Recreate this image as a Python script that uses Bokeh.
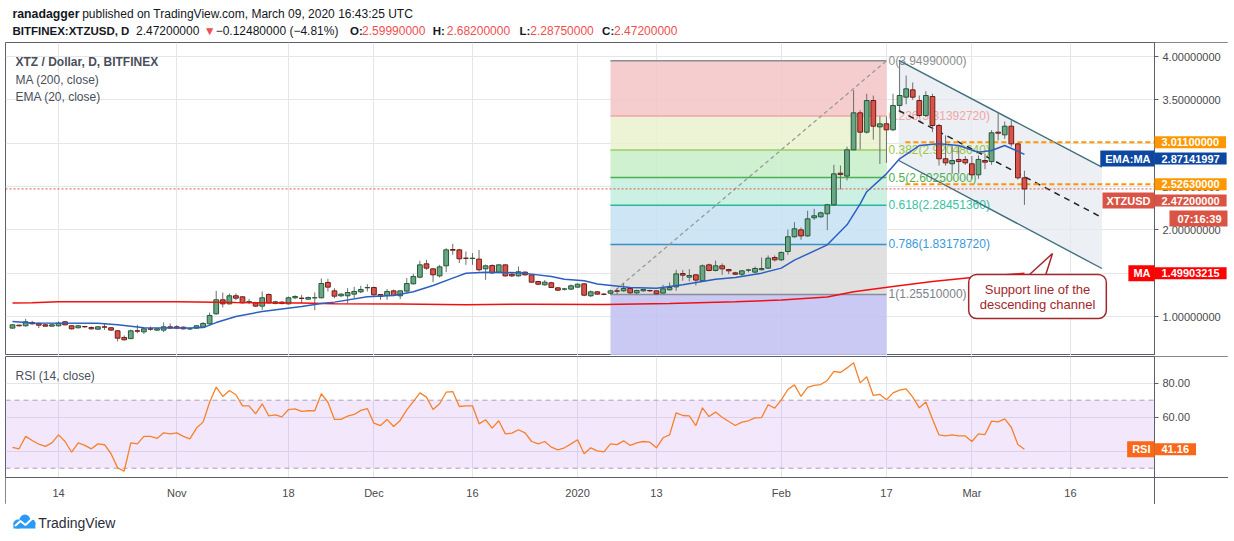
import pandas as pd
from bokeh.plotting import figure
from bokeh.models import Range1d, FixedTicker, PrintfTickFormatter, Label, ColumnDataSource
from bokeh.layouts import column
from bokeh.embed import file_html
from bokeh.resources import INLINE
from bokeh.core.properties import value

FONT = "Liberation Sans"
BASE = pd.Timestamp("2019-10-14")

# ---------------- data ----------------
dates = pd.date_range("2019-10-07", "2020-03-09", freq="D")

opens = [0.866,0.900,0.893,0.931,0.920,0.904,0.889,0.893,0.939,0.893, 0.870,0.885,0.873,0.854,0.881,0.870,0.835,0.758,0.745,0.835, 0.823,0.858,0.843,0.843,0.881,
         0.881,0.877,0.858,0.866,0.877,0.916,1.031,1.193,1.146,1.239, 1.227,1.170,1.158,1.120,1.254,1.150,1.166,1.146,1.216,1.212, 1.200,1.216,1.216,1.393,1.296,1.239,1.239,1.258,1.285,1.331,
         1.335,1.254,1.243,1.296,1.239,1.293,1.377,1.454,1.608,1.550, 1.469,1.585,1.773,1.769,1.673,1.669,1.662,1.550,1.589,1.512, 1.596,1.489,1.469,1.512,1.481,1.404,1.366,1.389,1.331,1.316, 1.316,
         1.339,1.377,1.239,1.285,1.258,1.269,1.296,1.296,1.323,1.273, 1.296,1.300,1.296,1.270,1.308,1.342,1.496,1.454,1.481,1.412, 1.596,1.531,1.585,1.542,1.504,1.488,1.535,1.512,1.540,1.558, 1.681,
         1.654,1.750,1.920,2.000,1.930,2.139,2.150,2.185,2.289,2.654, 2.620,2.923,3.350,3.127,3.492,3.188,3.223,3.154,3.435,3.531, 3.615,3.492,3.319,3.538,3.204,2.820,2.762,2.812,2.812,
         2.762,2.635,2.800,2.788,3.127,3.096,3.196,2.992,2.5999]
highs = [0.910,0.905,0.973,0.950,0.930,0.912,0.920,0.943,0.950,0.900, 0.900,0.893,0.885,0.890,0.915,0.880,0.843,0.781,0.850,0.904, 0.870,0.885,0.862,0.931,0.920,
         0.900,0.885,0.870,0.900,0.935,1.046,1.296,1.277,1.266,1.266, 1.235,1.204,1.170,1.289,1.266,1.180,1.175,1.230,1.245,1.250, 1.230,1.277,1.439,1.435,1.327,1.270,1.327,1.343,1.354,1.373,
         1.345,1.260,1.316,1.310,1.300,1.443,1.493,1.643,1.654,1.560, 1.596,1.789,1.839,1.780,1.750,1.731,1.769,1.600,1.600,1.600, 1.600,1.500,1.577,1.520,1.490,1.410,1.420,1.400,1.340,1.330, 1.370,
         1.380,1.385,1.300,1.295,1.270,1.310,1.327,1.385,1.330,1.310, 1.320,1.310,1.300,1.366,1.392,1.538,1.538,1.546,1.490,1.600, 1.610,1.646,1.612,1.550,1.515,1.535,1.550,1.577,1.681,1.704, 1.704,
         1.750,2.004,2.089,2.027,2.220,2.242,2.210,2.300,2.750,2.742, 2.960,3.610,3.380,3.570,3.550,3.310,3.310,3.570,3.9499,3.780, 3.700,3.550,3.600,3.570,3.220,3.090,2.973,2.973,2.850,
         2.850,2.858,2.880,3.150,3.358,3.250,3.262,3.000,2.682]
lows = [0.860,0.885,0.885,0.905,0.866,0.885,0.885,0.885,0.900,0.850, 0.862,0.870,0.850,0.850,0.846,0.835,0.712,0.725,0.740,0.808, 0.800,0.835,0.835,0.820,0.862,
        0.855,0.850,0.846,0.858,0.870,0.905,1.020,1.104,1.140,1.190, 1.150,1.143,1.110,1.077,1.150,1.140,1.140,1.140,1.200,1.154, 1.190,1.073,1.210,1.289,1.212,1.225,1.154,1.212,1.270,1.289,
        1.240,1.193,1.193,1.235,1.200,1.280,1.370,1.440,1.539,1.396, 1.450,1.512,1.712,1.616,1.596,1.596,1.520,1.423,1.490,1.500, 1.460,1.455,1.460,1.470,1.390,1.360,1.355,1.330,1.295,1.300, 1.305,
        1.330,1.235,1.225,1.250,1.245,1.2551,1.258,1.285,1.262,1.260, 1.285,1.285,1.258,1.262,1.300,1.296,1.412,1.404,1.358,1.400, 1.520,1.520,1.481,1.489,1.480,1.462,1.510,1.500,1.530,1.550, 1.635,
        1.640,1.712,1.910,1.885,1.920,2.115,2.140,1.996,2.280,2.466, 2.570,2.920,2.927,3.110,3.040,2.760,2.773,3.140,3.377,3.450, 3.500,3.300,3.300,3.127,2.742,2.740,2.646,2.646,2.750,
        2.589,2.589,2.700,2.750,3.031,3.050,2.960,2.580,2.2875]
closes = [0.904,0.893,0.939,0.916,0.900,0.889,0.904,0.923,0.904,0.858, 0.893,0.881,0.858,0.881,0.877,0.843,0.750,0.731,0.835,0.831, 0.858,0.854,0.858,0.881,0.866,
          0.866,0.858,0.858,0.893,0.920,1.012,1.193,1.146,1.239,1.212, 1.158,1.172,1.120,1.216,1.158,1.170,1.150,1.216,1.231,1.208, 1.219,1.216,1.381,1.339,1.235,1.258,1.277,1.289,1.312,1.335,
          1.250,1.231,1.289,1.243,1.296,1.381,1.462,1.596,1.558,1.481, 1.573,1.769,1.765,1.666,1.671,1.673,1.539,1.585,1.504,1.596, 1.469,1.469,1.516,1.481,1.396,1.373,1.396,1.335,1.304,1.318, 1.354,
          1.373,1.246,1.285,1.258,1.256,1.296,1.292,1.323,1.273,1.300, 1.312,1.296,1.262,1.320,1.335,1.492,1.477,1.473,1.420,1.585, 1.531,1.585,1.550,1.527,1.488,1.527,1.537,1.554,1.554,1.673, 1.654,
          1.739,1.920,2.012,1.930,2.127,2.162,2.196,2.289,2.646,2.638, 2.923,3.350,3.127,3.492,3.196,3.223,3.154,3.435,3.550,3.627, 3.531,3.319,3.550,3.204,2.820,2.773,2.800,2.788,2.773,
          2.635,2.812,2.781,3.120,3.115,3.196,2.992,2.600,2.472]

rsi = [42.2,41.4,48.7,46.3,44.1,42.8,44.9,49.6,45.7,39.4, 44.9,43.4,41.4,44.3,43.8,38.5,30.2,28.3,44.9,44.3, 48.7,48.7,47.5,50.8,50.2,
       50.8,48.7,47.3,53.6,57.1,68.8,77.7,72.2,75.7,73.2, 66.7,66.7,62.0,67.9,60.8,61.4,60.2,64.5,64.9,63.4, 63.8,63.8,73.8,68.8,58.7,58.7,60.6,61.6,64.0,65.1,
       56.5,55.1,58.7,54.5,58.1,64.3,69.2,74.3,71.8,64.5, 67.9,74.7,75.1,66.3,66.7,66.7,56.1,58.5,53.6,57.9, 50.2,50.6,52.6,50.8,45.7,44.3,45.7,42.4,40.8,42.0, 44.3,
       46.7,38.5,42.0,40.2,39.6,44.3,43.9,46.1,43.4,44.9, 45.7,45.3,42.0,47.9,49.6,62.6,61.0,60.8,55.1,65.5, 60.4,63.0,60.0,57.5,55.1,57.1,57.9,59.6,59.8,67.3, 65.3,
       70.2,76.3,79.0,72.2,77.5,78.7,79.2,81.6,86.9,86.3, 89.0,92.0,80.2,83.8,72.8,73.4,70.2,74.3,75.9,76.7, 71.8,65.5,69.0,59.0,49.6,49.0,49.6,49.0,49.0,
       45.7,50.2,49.8,57.7,57.3,59.0,54.1,43.9,41.16]

ema_dates = ["2019-10-07","2019-10-10","2019-10-20","2019-10-23","2019-10-27","2019-11-03","2019-11-05",
             "2019-11-07","2019-11-10","2019-11-14","2019-11-20","2019-11-23","2019-11-25","2019-11-30",
             "2019-12-04","2019-12-07","2019-12-10","2019-12-13","2019-12-15","2019-12-18","2019-12-23",
             "2019-12-25","2019-12-28","2019-12-30","2020-01-02","2020-01-04","2020-01-09","2020-01-13",
             "2020-01-17","2020-01-22","2020-01-25","2020-01-29","2020-02-01","2020-02-03","2020-02-08",
             "2020-02-11","2020-02-13","2020-02-14","2020-02-17","2020-02-19","2020-02-22","2020-02-25",
             "2020-02-28","2020-03-02","2020-03-04","2020-03-06","2020-03-09"]
ema_values = [0.943,0.925,0.922,0.905,0.870,0.866,0.872,
              0.930,1.000,1.058,1.115,1.150,1.166,1.227,
              1.243,1.285,1.358,1.443,1.500,1.512,1.504,
              1.489,1.462,1.431,1.412,1.375,1.335,1.327,
              1.366,1.431,1.450,1.500,1.558,1.650,1.827,
              2.058,2.300,2.440,2.646,2.820,2.973,2.992,
              2.973,2.896,2.915,2.973,2.87141997]

ma_dates = ["2019-10-07","2019-10-10","2019-10-14","2019-11-01","2019-11-10","2019-11-20","2019-11-25",
            "2019-12-05","2019-12-15","2019-12-25","2020-01-05","2020-01-15","2020-01-25","2020-02-01",
            "2020-02-08","2020-02-12","2020-02-18","2020-02-24","2020-03-01","2020-03-09"]
ma_values = [1.155,1.160,1.170,1.170,1.162,1.155,1.148,
             1.143,1.137,1.142,1.138,1.150,1.170,1.190,
             1.225,1.285,1.345,1.405,1.450,1.49903215]

fib_ratios = [0, 0.236, 0.382, 0.5, 0.618, 0.786, 1, 1.618]
fib_prices = [3.9499, 3.3139272, 2.9204864, 2.6025, 2.2845136, 1.8317872, 1.2551, -0.4103]
fib_start, fib_end = "2020-01-06", "2020-02-17"

channel_t = ["2020-02-18 21:00", "2020-03-20 19:00"]
channel_upper = [3.954, 2.723]
channel_lower = [2.800, 1.554]
channel_mid_t = ["2020-02-18 21:00", "2020-03-20 12:00"]
channel_mid = [3.377, 2.154]

hline_start = "2020-02-19 21:00"
hline_levels = [3.011, 2.5263]
last_price = 2.472

tick_dates = ["2019-10-14","2019-11-01","2019-11-18","2019-12-01","2019-12-16","2020-01-01",
              "2020-01-13","2020-02-01","2020-02-17","2020-03-01","2020-03-16"]
tick_labels = ["14","Nov","18","Dec","16","2020","13","Feb","17","Mar","16"]

price_ticks = [1.0, 1.5, 2.0, 2.5, 3.0, 3.5, 4.0]
rsi_ticks = [40, 60, 80]

# ---------------- geometry (page pixels) ----------------
def day(s):
    return (pd.Timestamp(s) - BASE) / pd.Timedelta(days=1)

PXD = 6.571          # px per day
FL, FR = 5, 1228     # frame left/right on page
AXP = 1154           # price-axis line on page
def PX(px):
    return (px - 58) / PXD
X0, X1, X2 = PX(FL), PX(AXP), PX(FR)
FW = FR - FL

P1T, P1B = 42, 355
def PY1(py):
    return 4 - (py - 56) / 86.67
Y1HI, Y1LO = PY1(P1T), PY1(P1B)

P2T, P2B = 356, 504
def PY2(py):
    return 80 - (py - 382.7) / 1.7
Y2HI, Y2LO = PY2(P2T), PY2(P2B)
XAXIS_Y = PY2(477)

xd = [(d - BASE) / pd.Timedelta(days=1) for d in dates]
xticks = [day(s) for s in tick_dates]

BORDER = "#5d606b"
GRID = "#e4e6eb"
AXTXT = "#4a4a4a"

def style_yaxis(ax, ticks, fmt):
    ax.ticker = FixedTicker(ticks=ticks)
    ax.formatter = PrintfTickFormatter(format=fmt)
    ax.major_label_text_font = FONT
    ax.major_label_text_font_size = "11px"
    ax.major_label_text_color = AXTXT
    ax.major_tick_out = 4
    ax.major_tick_in = 0
    ax.minor_tick_line_color = None
    ax.axis_line_color = BORDER
    ax.major_tick_line_color = BORDER
    ax.major_label_standoff = 4
    ax.fixed_location = X1

def badge(fig, x, y, text, bg, align="left", pl=7, pr=7):
    fig.add_layout(Label(x=x, y=y, text=text, text_align=align, text_baseline="middle",
                         text_font=FONT, text_font_size="11px", text_font_style="bold",
                         text_color="white", background_fill_color=bg,
                         padding=dict(left=pl, right=pr, top=2, bottom=2)))

# ---------------- header ----------------
hdr = figure(width=1234, height=P1T, x_range=Range1d(0, 1234), y_range=Range1d(P1T, 0),
             x_axis_location=None, y_axis_location=None, output_backend="svg", toolbar_location=None,
             min_border=0, outline_line_color=None)
hdr.grid.visible = False
HEAD = "#131722"
RED = "#ef4f4f"
def head(x, y, text, bold=False, color=HEAD, size=None):
    hdr.add_layout(Label(x=x, y=y, text=text, text_font=FONT,
                         text_font_size=size or ("11.5px" if bold else "12px"),
                         text_font_style="bold" if bold else "normal", text_color=color,
                         text_baseline="middle"))
head(7, 13, "ranadagger", bold=True, size="12.3px")
head(77, 13, "published on TradingView.com, March 09, 2020 16:43:25 UTC")
head(7, 30, "BITFINEX:XTZUSD, D", bold=True)
head(131, 30, "2.47200000")
head(199, 30, "\u25bc", color=RED)
head(211, 30, "\u22120.12480000 (\u22124.81%)")
head(346, 30, "O:", bold=True); head(358, 30, "2.59990000", color=RED)
head(429, 30, "H:", bold=True); head(443, 30, "2.68200000", color=RED)
head(516, 30, "L:", bold=True); head(527, 30, "2.28750000", color=RED)
head(599, 30, "C:", bold=True); head(611, 30, "2.47200000", color=RED)

# ---------------- price pane ----------------
p1 = figure(frame_width=FW, frame_height=P1B - P1T, x_range=Range1d(X0, X2), y_range=Range1d(Y1LO, Y1HI),
            x_axis_location=None, y_axis_location="right", output_backend="svg", toolbar_location=None,
            min_border_top=0, min_border_bottom=0, min_border_left=FL, min_border_right=0,
            outline_line_color=BORDER, background_fill_color="white", border_fill_color="white")
p1.xgrid.ticker = FixedTicker(ticks=xticks)
p1.grid.grid_line_color = GRID
style_yaxis(p1.yaxis[0], price_ticks, "%.8f")

# fib bands
band_colors = ["#f4c6c8", "#e9f3cf", "#c8efc9", "#c5eede", "#c6e1f3", "#dcdcdc", "#c3c2f2"]
fx0, fx1 = day(fib_start), day(fib_end)
p1.quad(left=[fx0]*7, right=[fx1]*7, top=fib_prices[:-1], bottom=fib_prices[1:],
        fill_color=band_colors, fill_alpha=0.88, line_color=None)
level_colors = ["#8a8d96", "#f3a3a3", "#9ccc65", "#4caf50", "#26b99a", "#3a8fc8", "#8a8d96"]
p1.segment(x0=[fx0]*7, y0=fib_prices[:-1], x1=[fx1]*7, y1=fib_prices[:-1], line_color=level_colors, line_width=1.5)
p1.segment(x0=[fx0], y0=[fib_prices[6]], x1=[fx1], y1=[fib_prices[0]], line_color="#9a9a9a",
           line_width=1.3, line_dash="4 3")

# descending channel fill (under the fib labels)
cx = [day(t) for t in channel_t]
p1.patch(x=[cx[0], cx[1], cx[1], cx[0]], y=[channel_upper[0], channel_upper[1], channel_lower[1], channel_lower[0]],
         fill_color="#e6e9ef", fill_alpha=0.75, line_color=None)

label_colors = ["#8c8c8c", "#f2a5a5", "#9bc53d", "#4caf50", "#34c4a0", "#3a9ad9", "#7d808a"]
fib_text = ["%g(%.8f)" % (r, pr) for r, pr in zip(fib_ratios[:-1], fib_prices[:-1])]
p1.text(x=[PX(888)]*7, y=fib_prices[:-1], text=fib_text, text_color=label_colors,
        text_font=value(FONT), text_font_size="12px", text_baseline="middle", text_align="left")

p1.line(cx, channel_upper, line_color="#3f6f7d", line_width=1.4)
p1.line(cx, channel_lower, line_color="#3f6f7d", line_width=1.4)
p1.line([day(t) for t in channel_mid_t], channel_mid, line_color="#222222", line_width=1.5, line_dash="6 5")

# horizontal levels
hs = day(hline_start)
p1.segment(x0=[hs]*2, y0=hline_levels, x1=[X1]*2, y1=hline_levels, line_color="#ff9800",
           line_width=2, line_dash="5 3")
p1.segment(x0=[X0], y0=[last_price], x1=[X1], y1=[last_price], line_color="#e5534b",
           line_width=1, line_dash="2 2")

# candles
up = [c >= o for o, c in zip(opens, closes)]
src = ColumnDataSource(dict(
    x=xd, h=highs, l=lows,
    top=[max(o, c) for o, c in zip(opens, closes)],
    bot=[min(o, c) for o, c in zip(opens, closes)],
    fill=["#6aa584" if u else "#d8544a" for u in up],
    edge=["#235a39" if u else "#6e1d16" for u in up]))
p1.segment(x0="x", y0="l", x1="x", y1="h", source=src, line_color="#6e6e6e", line_width=1)
p1.vbar(x="x", width=0.72, top="top", bottom="bot", fill_color="fill", line_color="edge",
        line_width=1, source=src)

# moving averages
p1.line([day(s) for s in ma_dates], ma_values, line_color="#f01010", line_width=1.5)
p1.line([day(s) for s in ema_dates], ema_values, line_color="#2b5fc1", line_width=1.5)

# callout
CALL = "#a3282d"
p1.patch(x=[PX(1028), PX(1052), PX(1045)], y=[PY1(275), PY1(253), PY1(275)],
         fill_color="white", line_color=CALL, line_width=1.5)
p1.add_layout(Label(x=PX(1037), y=PY1(296), text="Support line of the\ndescending channel",
                    text_align="center", text_baseline="middle", text_font=FONT, text_font_size="13px",
                    text_color=CALL, text_line_height=1.0, background_fill_color="white",
                    border_line_color=CALL, border_line_width=1.5, border_radius=8,
                    padding=dict(left=11, right=11, top=7, bottom=7)))

# blank price-scale strip (hides grid lines there)
p1.quad(left=[X1], right=[X2], bottom=[Y1LO], top=[Y1HI], fill_color="white", line_color=None)

# legend texts
LEG = "#4a4f5a"
for yy, txt, st in [(61, "XTZ / Dollar, D, BITFINEX", "bold"), (79, "MA (200, close)", "normal"),
                    (96, "EMA (20, close)", "normal")]:
    p1.add_layout(Label(x=PX(15), y=PY1(yy), text=txt, text_font=FONT, text_font_size="12px",
                        text_font_style=st, text_color=LEG, text_baseline="middle"))

ORANGE = "#ff9800"
BLUE = "#0e47a1"
CORAL = "#d95444"
badge(p1, X1, hline_levels[0], "%.8f" % hline_levels[0], ORANGE)
badge(p1, X1, PY1(158), "%.8f" % ema_values[-1], BLUE)
badge(p1, X1, PY1(158), "EMA:MA", BLUE, align="right", pl=5, pr=4)
badge(p1, X1, hline_levels[1], "%.8f" % hline_levels[1], ORANGE)
badge(p1, X1, PY1(200), "%.8f" % last_price, CORAL)
badge(p1, X1, PY1(200), "XTZUSD", CORAL, align="right", pl=4, pr=4)
badge(p1, PX(1227), PY1(218), "07:16:39", CORAL, align="right", pl=8, pr=6)
badge(p1, X1, ma_values[-1], "%.8f" % ma_values[-1], "#ff0000")
badge(p1, X1, ma_values[-1], "MA", "#ff0000", align="right", pl=5, pr=4)

# ---------------- RSI pane ----------------
p2 = figure(frame_width=FW, frame_height=P2B - P2T, x_range=p1.x_range, y_range=Range1d(Y2LO, Y2HI),
            y_axis_location="right", output_backend="svg", toolbar_location=None,
            min_border_top=1, min_border_bottom=0, min_border_left=FL, min_border_right=0,
            outline_line_color=BORDER, background_fill_color="white", border_fill_color="white")
p2.grid.grid_line_color = GRID
p2.quad(left=[X0], right=[X1], bottom=[30], top=[70], fill_color="#b05ce6", fill_alpha=0.15, line_color=None)
p2.segment(x0=[X0, X0], y0=[70, 30], x1=[X1, X1], y1=[70, 30], line_color="#a8a0b4",
           line_dash="5 4", line_width=1)
p2.line(xd, rsi, line_color="#f7812b", line_width=1.3)
# blank strips (price scale and time scale)
p2.quad(left=[X1, X0], right=[X2, X2], bottom=[Y2LO, Y2LO], top=[Y2HI, XAXIS_Y],
        fill_color="white", line_color=None)

xa = p2.xaxis[0]
xa.ticker = FixedTicker(ticks=xticks)
xa.major_label_overrides = {int(t): lab for t, lab in zip(xticks, tick_labels)}
xa.major_label_text_font = FONT
xa.major_label_text_font_size = "11px"
xa.major_label_text_color = AXTXT
xa.major_tick_line_color = None
xa.minor_tick_line_color = None
xa.major_tick_out = 0
xa.major_label_standoff = 9
xa.axis_line_color = BORDER
xa.fixed_location = XAXIS_Y

style_yaxis(p2.yaxis[0], rsi_ticks, "%.2f")

p2.add_layout(Label(x=PX(15), y=PY2(375), text="RSI (14, close)", text_font=FONT,
                    text_font_size="12px", text_color=LEG, text_baseline="middle"))
badge(p2, X1, rsi[-1], "%.2f" % rsi[-1], "#f7681a")
badge(p2, X1, rsi[-1], "RSI", "#f7681a", align="right", pl=5, pr=4)

# ---------------- footer ----------------
FH = 36
ftr = figure(width=1234, height=FH, x_range=Range1d(0, 1234), y_range=Range1d(P2B + FH, P2B),
             x_axis_location=None, y_axis_location=None, output_backend="svg", toolbar_location=None,
             min_border=0, outline_line_color=None)
ftr.grid.visible = False
LOGO = "#2b9af3"
ftr.circle(x=[12.5, 19.5, 26], y=[523.5, 519.5, 523], radius=[4.5, 5.5, 4], fill_color=LOGO, line_color=None)
ftr.quad(left=[8], right=[30], top=[522], bottom=[528], fill_color=LOGO, line_color=None)
ftr.line([9.5, 15, 20, 27.5], [525.5, 520.5, 524.5, 517.5], line_color="white", line_width=2)
ftr.add_layout(Label(x=33, y=522.5, text="TradingView", text_font=FONT, text_font_size="14px",
                     text_color="#2a2e39", text_baseline="middle"))

layout = column(hdr, p1, p2, ftr)
open("out.html", "w").write(file_html(layout, INLINE))
